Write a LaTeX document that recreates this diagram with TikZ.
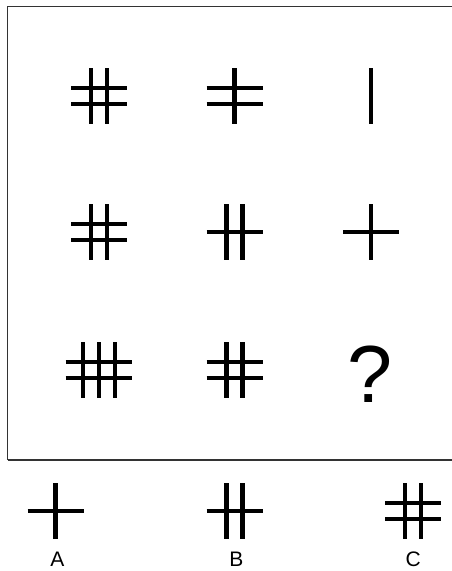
\documentclass[tikz,border=0pt]{standalone}
\usepackage{fontspec}
\setmainfont{Liberation Sans}

% one symbol: centre x, centre y, vertical offsets, horizontal offsets, half width
\newcommand{\hashsym}[5]{%
    \foreach \dx in {#3} {\draw[bar] (#1+\dx,#2-28) -- (#1+\dx,#2+28);}
    \foreach \dy in {#4} {\draw[bar] (#1-#5,#2+\dy) -- (#1+#5,#2+\dy);}
}

\begin{document}
\begin{tikzpicture}[
    x=1pt, y=-1pt,
    bar/.style={line width=4.3pt, black},
    frame/.style={line width=1.5pt, black!80},
    choice/.style={anchor=base, font=\fontsize{21}{21}\selectfont},
    ask/.style={anchor=base, font=\fontsize{81}{81}\selectfont}
]
\useasboundingbox (0,0) rectangle (452,571);
\draw[frame] (7.5,460) -- (7.5,6.5) -- (460,6.5);
\draw[frame] (7.5,460) -- (460,460);

% matrix
\hashsym{99}{96}{-8,8}{-8,8}{28}
\hashsym{234.5}{96}{0}{-8,8}{28}
\draw[bar] (371,68) -- (371,124);
\hashsym{99}{232}{-8,8}{-8,8}{28}
\hashsym{234.5}{232}{-8,8}{0}{28}
\hashsym{371}{232}{0}{0}{28}
\hashsym{98.7}{370}{-16,0,16}{-8,8}{33}
\hashsym{234.5}{370}{-8,8}{-8,8}{28}
\node[ask] (qm) at (370,402) {?};

% answers
\hashsym{55.5}{511}{0}{0}{28}
\hashsym{234.5}{511}{-8,8}{0}{28}
\hashsym{413}{511}{-8,8}{-8,8}{28}
\node[choice] (la) at (57.5,566.7) {A};
\node[choice] (lb) at (236.5,566.7) {B};
\node[choice] (lc) at (413.3,566.7) {C};
\end{tikzpicture}
\end{document}
